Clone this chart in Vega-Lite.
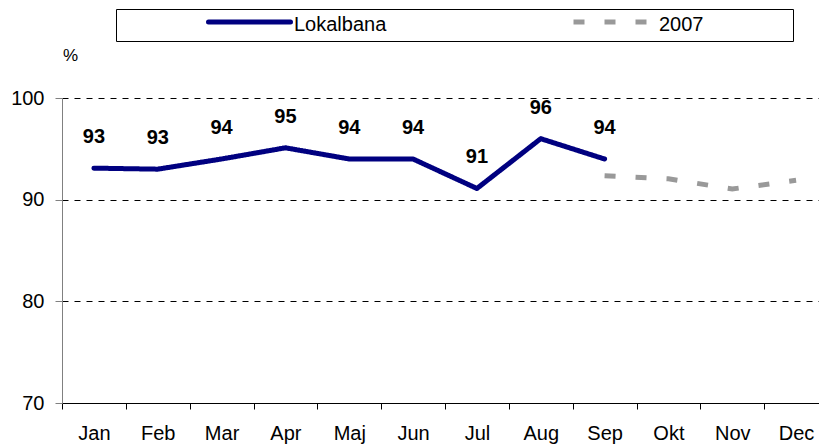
{
  "$schema": "https://vega.github.io/schema/vega-lite/v6.json",
  "width": 757,
  "height": 305,
  "autosize": {"type": "none"},
  "padding": {"left": 62, "top": 98, "right": 0, "bottom": 42},
  "background": "#ffffff",
  "config": {"font": "Liberation Sans", "view": {"stroke": null}},
  "data": {
    "values": [
      {"month": "Jan", "series": "Lokalbana", "value": 93.1},
      {"month": "Feb", "series": "Lokalbana", "value": 93.0},
      {"month": "Mar", "series": "Lokalbana", "value": 94.0},
      {"month": "Apr", "series": "Lokalbana", "value": 95.1},
      {"month": "Maj", "series": "Lokalbana", "value": 94.0},
      {"month": "Jun", "series": "Lokalbana", "value": 94.0},
      {"month": "Jul", "series": "Lokalbana", "value": 91.1},
      {"month": "Aug", "series": "Lokalbana", "value": 96.0},
      {"month": "Sep", "series": "Lokalbana", "value": 94.0},
      {"month": "Sep", "series": "2007", "value": 92.35},
      {"month": "Okt", "series": "2007", "value": 92.05},
      {"month": "Nov", "series": "2007", "value": 91.05},
      {"month": "Dec", "series": "2007", "value": 91.9}
    ]
  },
  "encoding": {
    "x": {
      "field": "month",
      "type": "ordinal",
      "bandPosition": 0.5,
      "scale": {
        "type": "band",
        "domain": ["Jan", "Feb", "Mar", "Apr", "Maj", "Jun", "Jul", "Aug", "Sep", "Okt", "Nov", "Dec"],
        "range": [0, 766],
        "paddingInner": 0,
        "paddingOuter": 0
      },
      "axis": {
        "title": null,
        "labelAngle": 0,
        "labelFontSize": 20,
        "labelColor": "#000000",
        "labelPadding": 14,
        "tickBand": "extent",
        "tickSize": 6,
        "tickColor": "#000000",
        "domainColor": "#000000",
        "grid": false
      }
    },
    "y": {
      "field": "value",
      "type": "quantitative",
      "scale": {"domain": [70, 100], "nice": false, "zero": false},
      "axis": {
        "title": "%",
        "titleAngle": 0,
        "titleX": 8,
        "titleY": -43,
        "titleAlign": "center",
        "titleBaseline": "middle",
        "titleFontWeight": "normal",
        "titleFontSize": 17,
        "titleColor": "#000000",
        "values": [70, 80, 90, 100],
        "labelFontSize": 20,
        "labelColor": "#000000",
        "labelPadding": 11,
        "tickSize": 7,
        "tickColor": "#808080",
        "domainColor": "#808080",
        "grid": true,
        "gridColor": "#000000",
        "gridDash": [6, 6],
        "gridWidth": 1
      }
    }
  },
  "layer": [
    {
      "transform": [{"filter": "datum.series === 'Lokalbana'"}],
      "mark": {"type": "line", "strokeWidth": 5, "strokeCap": "round", "strokeJoin": "round"},
      "encoding": {
        "color": {
          "field": "series", "type": "nominal",
          "scale": {"domain": ["Lokalbana", "2007"], "range": ["#000080", "#999999"]},
          "legend": {
            "title": null, "orient": "none", "legendX": 54, "legendY": -89,
            "direction": "horizontal", "columns": 2, "padding": 6,
            "strokeColor": "#000000", "fillColor": "#ffffff",
            "symbolType": "stroke", "symbolSize": 6724, "symbolStrokeWidth": 5,
            "symbolOffset": 84, "labelOffset": 1, "labelFontSize": 20, "labelColor": "#000000",
            "labelLimit": 300, "clipHeight": 20, "columnPadding": 65,
            "encode": {
              "entries": {"update": {"width": {"value": 300}}},
              "symbols": {"update": {"y": {"value": 7}, "strokeCap": {"signal": "datum.value === 'Lokalbana' ? 'round' : 'butt'"}}}
            }
          }
        },
        "strokeDash": {
          "field": "series", "type": "nominal",
          "scale": {"domain": ["Lokalbana", "2007"], "range": [[1, 0], [11, 20]]},
          "legend": {
            "title": null, "orient": "none", "legendX": 54, "legendY": -89,
            "direction": "horizontal", "columns": 2, "padding": 6,
            "strokeColor": "#000000", "fillColor": "#ffffff",
            "symbolType": "stroke", "symbolSize": 6724, "symbolStrokeWidth": 5,
            "symbolOffset": 84, "labelOffset": 1, "labelFontSize": 20, "labelColor": "#000000",
            "labelLimit": 300, "clipHeight": 20, "columnPadding": 65,
            "encode": {
              "entries": {"update": {"width": {"value": 300}}},
              "symbols": {"update": {"y": {"value": 7}, "strokeCap": {"signal": "datum.value === 'Lokalbana' ? 'round' : 'butt'"}}}
            }
          }
        }
      }
    },
    {
      "transform": [{"filter": "datum.series === '2007'"}],
      "mark": {"type": "line", "strokeWidth": 5, "strokeCap": "butt"},
      "encoding": {
        "color": {
          "field": "series", "type": "nominal",
          "scale": {"domain": ["Lokalbana", "2007"], "range": ["#000080", "#999999"]},
          "legend": {
            "title": null, "orient": "none", "legendX": 54, "legendY": -89,
            "direction": "horizontal", "columns": 2, "padding": 6,
            "strokeColor": "#000000", "fillColor": "#ffffff",
            "symbolType": "stroke", "symbolSize": 6724, "symbolStrokeWidth": 5,
            "symbolOffset": 84, "labelOffset": 1, "labelFontSize": 20, "labelColor": "#000000",
            "labelLimit": 300, "clipHeight": 20, "columnPadding": 65,
            "encode": {
              "entries": {"update": {"width": {"value": 300}}},
              "symbols": {"update": {"y": {"value": 7}, "strokeCap": {"signal": "datum.value === 'Lokalbana' ? 'round' : 'butt'"}}}
            }
          }
        },
        "strokeDash": {
          "field": "series", "type": "nominal",
          "scale": {"domain": ["Lokalbana", "2007"], "range": [[1, 0], [11, 20]]},
          "legend": {
            "title": null, "orient": "none", "legendX": 54, "legendY": -89,
            "direction": "horizontal", "columns": 2, "padding": 6,
            "strokeColor": "#000000", "fillColor": "#ffffff",
            "symbolType": "stroke", "symbolSize": 6724, "symbolStrokeWidth": 5,
            "symbolOffset": 84, "labelOffset": 1, "labelFontSize": 20, "labelColor": "#000000",
            "labelLimit": 300, "clipHeight": 20, "columnPadding": 65,
            "encode": {
              "entries": {"update": {"width": {"value": 300}}},
              "symbols": {"update": {"y": {"value": 7}, "strokeCap": {"signal": "datum.value === 'Lokalbana' ? 'round' : 'butt'"}}}
            }
          }
        }
      }
    },
    {
      "transform": [{"filter": "datum.series === 'Lokalbana'"}],
      "mark": {"type": "text", "fontWeight": "bold", "fontSize": 20, "baseline": "alphabetic", "dy": -25, "color": "#000000"},
      "encoding": {
        "text": {"field": "value", "type": "quantitative", "format": ".0f"}
      }
    }
  ]
}
